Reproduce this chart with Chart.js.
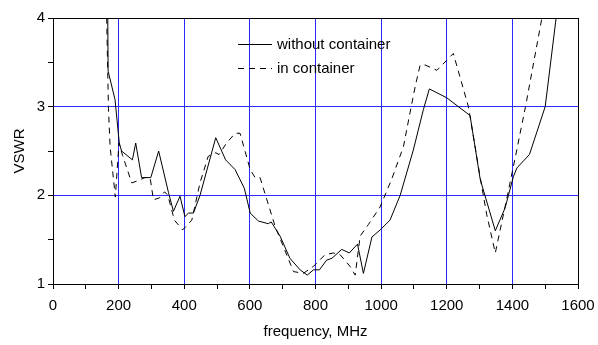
<!DOCTYPE html>
<html>
<head>
<meta charset="utf-8">
<script src="https://cdn.jsdelivr.net/npm/chart.js@4/dist/chart.umd.min.js"></script>
<style>
  html, body { margin: 0; padding: 0; background: #fff; }
  #wrap { width: 598px; height: 345px; }
</style>
</head>
<body>
<div id="wrap"><canvas id="grafico" width="598" height="345"></canvas></div>
<script>
// without container (solid)
const freqSem = [166, 168, 189, 202, 209, 242, 252, 270, 298, 322, 352, 367, 387, 402, 413, 428, 448, 496, 526, 555, 583, 601, 626, 656, 665, 692, 722, 753, 775, 794, 812, 834, 850, 880, 903, 928, 946, 972, 997, 1027, 1058, 1098, 1129, 1147, 1200, 1271, 1302, 1348, 1378, 1403, 1414, 1452, 1500, 1540];
const vswrSem = [4.5, 3.40, 3.08, 2.59, 2.50, 2.40, 2.59, 2.20, 2.20, 2.50, 2.03, 1.82, 1.99, 1.76, 1.80, 1.80, 2.00, 2.65, 2.40, 2.29, 2.08, 1.80, 1.71, 1.68, 1.70, 1.54, 1.29, 1.16, 1.10, 1.16, 1.16, 1.27, 1.29, 1.39, 1.35, 1.45, 1.12, 1.53, 1.61, 1.72, 2.00, 2.51, 2.97, 3.20, 3.10, 2.90, 2.18, 1.60, 1.86, 2.21, 2.31, 2.46, 3.00, 4.2];

// in container (dashed)
const freqCom = [162, 164, 169, 174, 190, 201, 212, 240, 262, 280, 296, 306, 324, 340, 350, 370, 395, 423, 448, 473, 496, 506, 529, 555, 570, 601, 616, 631, 677, 733, 763, 794, 829, 854, 875, 905, 921, 936, 961, 997, 1033, 1068, 1088, 1104, 1119, 1134, 1170, 1220, 1266, 1302, 1322, 1348, 1385, 1410, 1440, 1465, 1495];
const vswrCom = [4.5, 3.92, 2.98, 2.55, 1.98, 2.59, 2.45, 2.14, 2.17, 2.20, 2.20, 1.95, 1.97, 2.04, 2.00, 1.72, 1.61, 1.72, 2.14, 2.44, 2.48, 2.46, 2.59, 2.70, 2.70, 2.29, 2.20, 2.20, 1.65, 1.14, 1.12, 1.20, 1.33, 1.35, 1.33, 1.20, 1.10, 1.54, 1.67, 1.87, 2.19, 2.55, 2.93, 3.23, 3.47, 3.47, 3.41, 3.60, 3.00, 2.20, 1.78, 1.35, 2.00, 2.45, 3.00, 3.50, 4.1];

const legendas = ["without container", "in container"];
const xRotulos = [0, 200, 400, 600, 800, 1000, 1200, 1400, 1600];
const yRotulos = [1, 2, 3, 4];

const AZUL = "#2a2aff";
const FONTE = "'Liberation Sans', Arial, sans-serif";

function pontos(xs, ys) {
  return xs.map((x, i) => ({ x: x, y: ys[i] }));
}

// moldura em volta da area do grafico
const moldura = {
  id: "moldura",
  afterDraw(chart) {
    const { ctx, chartArea: a } = chart;
    ctx.save();
    ctx.strokeStyle = "#000";
    ctx.lineWidth = 1;
    ctx.strokeRect(Math.round(a.left) + 0.5, Math.round(a.top) + 0.5,
      Math.round(a.right - a.left), Math.round(a.bottom - a.top));
    ctx.restore();
  },
};

// legenda dentro do grafico
const legendaInterna = {
  id: "legendaInterna",
  afterDraw(chart) {
    const ctx = chart.ctx;
    ctx.save();
    ctx.font = "15px " + FONTE;
    ctx.fillStyle = "#000";
    ctx.textBaseline = "middle";
    chart.data.datasets.forEach((ds, i) => {
      const y = 44.5 + i * 24;
      ctx.strokeStyle = "#000";
      ctx.lineWidth = 1;
      ctx.setLineDash(ds.borderDash || []);
      ctx.beginPath();
      ctx.moveTo(238, y);
      ctx.lineTo(272, y);
      ctx.stroke();
      ctx.setLineDash([]);
      ctx.fillText(ds.label, 277, y);
    });
    ctx.restore();
  },
};

new Chart(document.getElementById("grafico"), {
  type: "line",
  data: {
    datasets: [
      {
        label: legendas[0],
        data: pontos(freqSem, vswrSem),
        borderColor: "#000",
        borderWidth: 1,
        pointRadius: 0,
        tension: 0,
      },
      {
        label: legendas[1],
        data: pontos(freqCom, vswrCom),
        borderColor: "#000",
        borderWidth: 1,
        borderDash: [6, 5],
        pointRadius: 0,
        tension: 0,
      },
    ],
  },
  options: {
    responsive: false,
    animation: false,
    layout: { padding: { top: 18, right: 20, left: 0, bottom: 0 } },
    plugins: {
      legend: { display: false },
      tooltip: { enabled: false },
    },
    scales: {
      x: {
        type: "linear",
        min: 0,
        max: 1600,
        afterFit: (s) => {
          s.height = 61;
          s.paddingLeft = 0;
          s.paddingRight = 0;
        },
        afterBuildTicks: (s) => {
          s.ticks = [];
          for (let v = 0; v <= 1600; v += 100) s.ticks.push({ value: v });
        },
        ticks: {
          color: "#000",
          font: { family: FONTE, size: 15 },
          padding: 8,
          maxRotation: 0,
          autoSkip: false,
          callback: (v) => (xRotulos.includes(v) ? String(v) : ""),
        },
        grid: {
          color: (c) => (c.tick && c.tick.value % 200 === 0 && c.tick.value > 0 && c.tick.value < 1600 ? AZUL : "rgba(0,0,0,0)"),
          tickColor: "#000",
          tickLength: 5,
          lineWidth: 1,
        },
        border: { color: "#000", width: 1 },
        title: {
          display: true,
          text: "frequency, MHz",
          color: "#000",
          font: { family: FONTE, size: 15 },
          padding: { top: 0, bottom: 4 },
        },
      },
      y: {
        type: "linear",
        min: 1,
        max: 4,
        afterFit: (s) => {
          s.width = 53;
          s.paddingTop = 0;
          s.paddingBottom = 0;
        },
        afterBuildTicks: (s) => {
          s.ticks = [];
          for (let v = 1; v <= 4.001; v += 0.5) s.ticks.push({ value: v });
        },
        ticks: {
          color: "#000",
          font: { family: FONTE, size: 15 },
          padding: 3,
          callback: (v) => (yRotulos.includes(v) ? String(v) : ""),
        },
        grid: {
          color: (c) => (c.tick && (c.tick.value === 2 || c.tick.value === 3) ? AZUL : "rgba(0,0,0,0)"),
          tickColor: "#000",
          tickLength: 5,
          lineWidth: 1,
        },
        border: { color: "#000", width: 1 },
        title: {
          display: true,
          text: "VSWR",
          color: "#000",
          font: { family: FONTE, size: 15 },
          padding: { top: 11, bottom: 0 },
        },
      },
    },
  },
  plugins: [moldura, legendaInterna],
});
</script>
</body>
</html>
